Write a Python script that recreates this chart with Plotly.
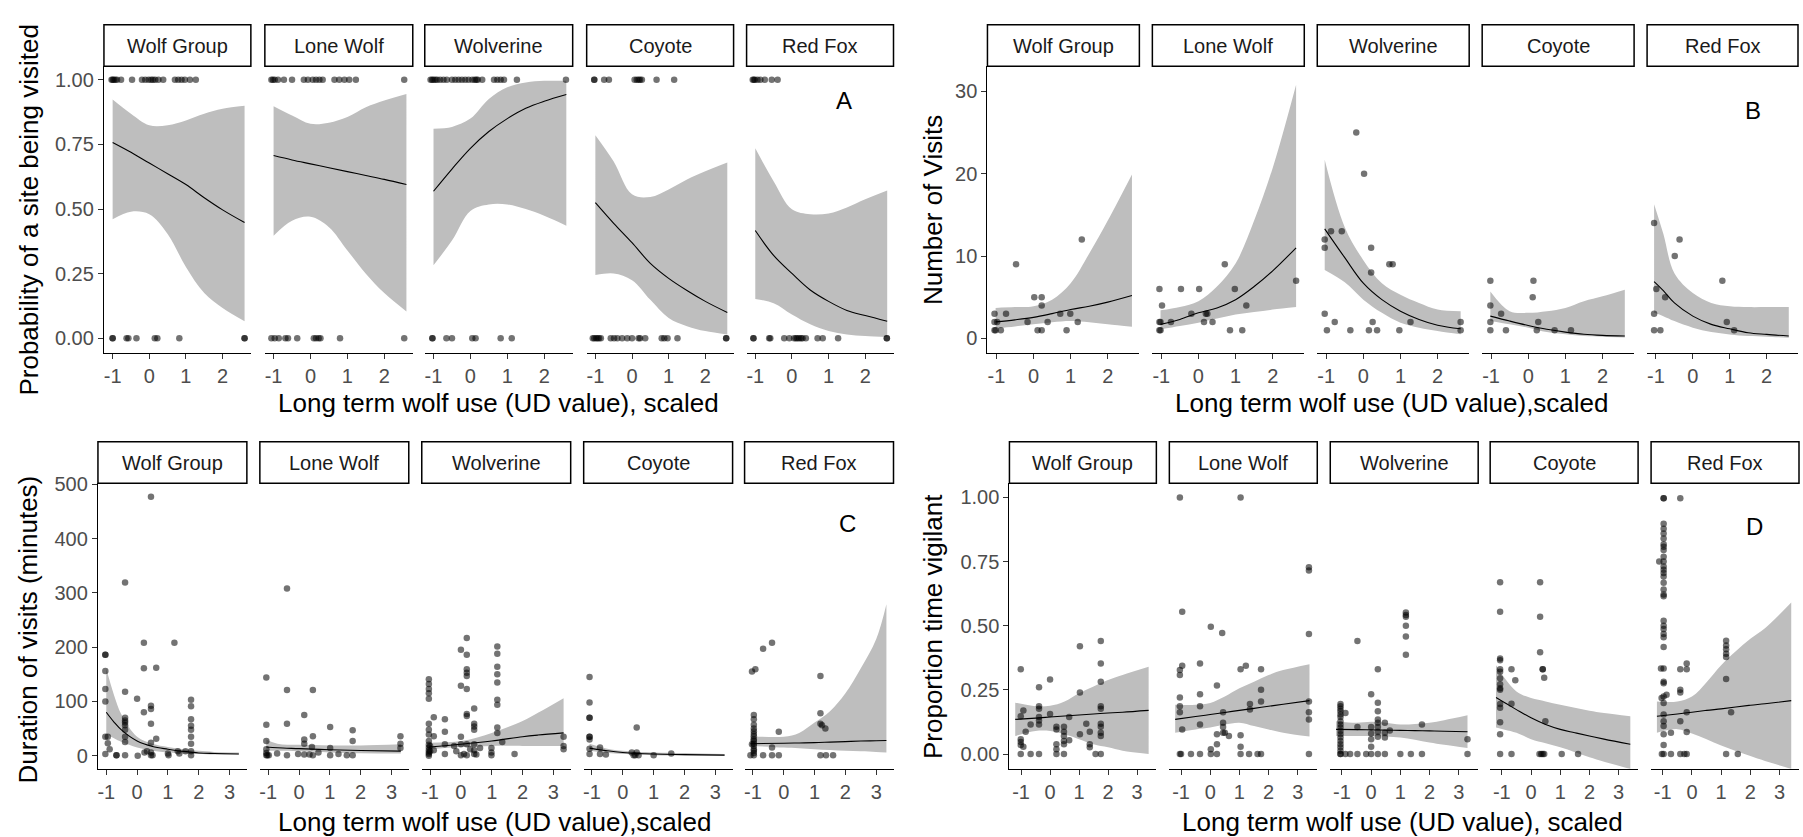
import plotly.graph_objects as go

W, H = 1803, 837
FONT = "Liberation Sans, Arial, sans-serif"
SPECIES = ["Wolf Group", "Lone Wolf", "Wolverine", "Coyote", "Red Fox"]

# ---------------- Panel A : probability of a site being visited ----------------
A_x_visited = {
    "Wolf Group": [-1.03, -1.0, -0.97, -0.93, -0.88, -0.77, -0.47, -0.2, -0.11, -0.02, 0.05, 0.1, 0.16,
                   0.25, 0.38, 0.7, 0.79, 0.88, 0.97, 1.11, 1.27],
    "Lone Wolf": [-1.06, -1.02, -0.97, -0.88, -0.72, -0.5, -0.18, -0.07, 0.06, 0.15, 0.24, 0.33, 0.65,
                  0.78, 0.92, 1.05, 1.23, 2.54],
    "Wolverine": [-1.08, -1.04, -1.0, -0.95, -0.9, -0.82, -0.73, -0.64, -0.5, -0.41, -0.32, -0.23, -0.14,
                  -0.05, 0.05, 0.12, 0.16, 0.2, 0.32, 0.64, 0.73, 0.82, 0.91, 1.26, 2.59],
    "Coyote": [-1.03, -1.03, -0.76, -0.63, 0.07, 0.13, 0.18, 0.22, 0.27, 0.67, 1.15],
    "Red Fox": [-1.07, -1.04, -1.01, -0.94, -0.86, -0.74, -0.55, -0.39],
}
A_x_unvisited = {
    "Wolf Group": [-1.0, -1.0, -0.62, -0.57, -0.35, 0.15, 0.22, 0.82, 2.6, 2.6],
    "Lone Wolf": [-1.06, -0.97, -0.86, -0.68, -0.61, -0.36, 0.09, 0.15, 0.22, 0.27, 0.8, 2.54],
    "Wolverine": [-1.03, -1.03, -0.65, -0.5, 0.05, 0.14, 0.82, 1.12],
    "Coyote": [-1.07, -1.03, -0.98, -0.94, -0.9, -0.85, -0.58, -0.49, -0.4, -0.27, -0.13, 0.0, 0.18,
               0.22, 0.36, 0.81, 0.88, 0.97, 1.24, 2.57, 2.57],
    "Red Fox": [-1.05, -1.05, -0.62, -0.59, -0.21, -0.07, 0.06, 0.11, 0.15, 0.2, 0.25, 0.29, 0.38, 0.7,
                0.84, 1.26, 2.59, 2.59],
}
A_fit_x = [-1.0, -0.5, 0.0, 0.5, 1.0, 1.5, 2.0, 2.6]
A_fit = {
    "Wolf Group": [0.758, 0.72, 0.678, 0.637, 0.595, 0.544, 0.497, 0.448],
    "Lone Wolf": [0.707, 0.69, 0.675, 0.66, 0.645, 0.63, 0.615, 0.595],
    "Wolverine": [0.569, 0.655, 0.735, 0.8, 0.85, 0.89, 0.917, 0.943],
    "Coyote": [0.525, 0.445, 0.37, 0.29, 0.232, 0.185, 0.143, 0.10],
    "Red Fox": [0.417, 0.321, 0.251, 0.187, 0.143, 0.108, 0.088, 0.066],
}
A_lo = {
    "Wolf Group": [0.461, 0.49, 0.48, 0.404, 0.276, 0.175, 0.117, 0.066],
    "Lone Wolf": [0.397, 0.455, 0.47, 0.43, 0.34, 0.25, 0.175, 0.104],
    "Wolverine": [0.283, 0.378, 0.493, 0.518, 0.518, 0.5, 0.474, 0.436],
    "Coyote": [0.245, 0.251, 0.225, 0.149, 0.079, 0.047, 0.028, 0.015],
    "Red Fox": [0.152, 0.136, 0.092, 0.054, 0.028, 0.015, 0.009, 0.005],
}
A_hi = {
    "Wolf Group": [0.924, 0.869, 0.824, 0.824, 0.843, 0.869, 0.888, 0.90],
    "Lone Wolf": [0.898, 0.862, 0.83, 0.834, 0.856, 0.894, 0.92, 0.945],
    "Wolverine": [0.811, 0.818, 0.85, 0.926, 0.971, 0.99, 0.996, 0.996],
    "Coyote": [0.786, 0.684, 0.557, 0.547, 0.576, 0.614, 0.646, 0.68],
    "Red Fox": [0.735, 0.608, 0.499, 0.48, 0.483, 0.506, 0.538, 0.572],
}

# ---------------- Panel B : number of visits ----------------
B_pts = {
    "Wolf Group": [(-1.05, 3), (-1.05, 2), (-1.05, 1), (-0.98, 2), (-1.02, 1), (-0.88, 1), (-0.74, 3),
                   (-0.47, 9), (-0.16, 2), (0.02, 5), (0.11, 1), (0.22, 5), (0.22, 4), (0.22, 1), (0.38, 2),
                   (0.72, 3), (0.89, 1), (0.99, 3), (1.19, 2), (1.3, 12)],
    "Lone Wolf": [(-1.05, 6), (-0.98, 4), (-1.05, 2), (-1.02, 2), (-1.05, 1), (-1.02, 1), (-0.74, 2),
                  (-0.47, 6), (-0.19, 3), (0.02, 6), (0.15, 2), (0.2, 3), (0.24, 3), (0.38, 2), (0.71, 9),
                  (0.85, 1), (0.98, 6), (1.18, 1), (1.29, 4), (2.63, 7)],
    "Wolverine": [(-1.04, 12), (-1.04, 11), (-0.87, 13), (-0.58, 13), (-0.19, 25), (-1.04, 3), (-0.98, 1),
                  (-0.77, 2), (-0.35, 1), (0.02, 20), (0.21, 11), (0.21, 8), (0.7, 9), (0.79, 9), (0.25, 2),
                  (0.15, 1), (0.37, 1), (0.97, 1), (1.27, 2), (2.62, 2), (2.62, 1)],
    "Coyote": [(-1.02, 7), (-1.02, 4), (-1.02, 2), (-1.02, 1), (-0.73, 3), (-0.6, 1), (0.14, 7), (0.12, 5),
               (0.27, 2), (0.23, 1), (0.71, 1), (1.15, 1)],
    "Red Fox": [(-1.05, 14), (-0.99, 6), (-1.05, 3), (-1.05, 1), (-0.88, 1), (-0.75, 5), (-0.49, 10),
                (-0.36, 12), (0.8, 7), (0.92, 2), (1.12, 1)],
}
B_fit_x = {
    "Wolf Group": [-1.02, -0.5, 0.0, 0.5, 1.0, 1.5, 2.0, 2.65],
    "Lone Wolf": [-1.02, -0.5, 0.0, 0.5, 1.0, 1.5, 2.0, 2.63],
    "Wolverine": [-1.04, -0.5, 0.0, 0.5, 1.0, 1.5, 2.0, 2.62],
    "Coyote": [-1.02, -0.5, 0.0, 0.5, 1.0, 1.5, 2.0, 2.6],
    "Red Fox": [-1.05, -0.8, -0.5, 0.0, 0.5, 1.0, 1.5, 2.0, 2.6],
}
B_fit = {
    "Wolf Group": [2.0, 2.25, 2.55, 3.0, 3.5, 3.9, 4.4, 5.2],
    "Lone Wolf": [1.7, 2.3, 3.1, 3.7, 4.7, 6.3, 8.2, 11.0],
    "Wolverine": [13.3, 9.8, 6.7, 4.7, 3.3, 2.3, 1.6, 1.16],
    "Coyote": [2.7, 2.1, 1.56, 1.1, 0.76, 0.5, 0.36, 0.28],
    "Red Fox": [6.9, 5.8, 4.3, 2.7, 1.7, 1.16, 0.68, 0.48, 0.28],
}
B_lo = {
    "Wolf Group": [1.2, 1.45, 1.7, 1.95, 2.1, 1.95, 1.7, 1.4],
    "Lone Wolf": [1.1, 1.5, 1.9, 2.4, 2.9, 3.2, 3.5, 3.8],
    "Wolverine": [8.3, 6.8, 4.7, 3.1, 1.9, 1.3, 0.9, 0.5],
    "Coyote": [2.1, 1.7, 1.3, 0.76, 0.5, 0.28, 0.2, 0.1],
    "Red Fox": [3.1, 2.7, 2.1, 1.3, 0.76, 0.48, 0.28, 0.2, 0.08],
}
B_hi = {
    "Wolf Group": [3.7, 3.8, 3.9, 4.7, 6.7, 10.3, 14.3, 19.9],
    "Lone Wolf": [3.4, 3.8, 4.5, 6.3, 9.1, 14.3, 20.7, 30.8],
    "Wolverine": [21.7, 13.5, 9.5, 6.7, 5.3, 4.3, 3.5, 3.3],
    "Coyote": [5.7, 3.3, 3.1, 3.3, 3.7, 4.5, 5.1, 5.9],
    "Red Fox": [16.3, 12.7, 7.9, 5.5, 4.3, 3.9, 3.8, 3.8, 3.8],
}

# ---------------- Panel C : duration of visits (minutes) ----------------
C_pts = {
    "Wolf Group": [(-1.03, 186), (-1.03, 186), (-1.03, 156), (-1.03, 123), (-1.03, 100), (-1.03, 35),
                   (-0.95, 35), (-0.95, 23), (-0.89, 12), (-1.03, 3), (-0.67, 1), (-0.67, 1), (-0.39, 319),
                   (-0.39, 118), (-0.39, 70), (-0.39, 65), (-0.39, 61), (-0.39, 56), (-0.39, 48), (-0.39, 35),
                   (-0.39, 25), (-0.39, 1), (0.0, 105), (0.02, 0), (0.22, 208), (0.22, 161), (0.22, 80),
                   (0.24, 6), (0.32, 8), (0.45, 477), (0.45, 92), (0.45, 86), (0.45, 59), (0.45, 24),
                   (0.45, 6), (0.45, 1), (0.5, 1), (0.62, 162), (0.62, 31), (1.0, 4), (1.02, 1), (1.21, 208),
                   (1.32, 8), (1.37, 4), (1.57, 8), (1.75, 103), (1.75, 91), (1.75, 67), (1.75, 55),
                   (1.75, 48), (1.75, 35), (1.75, 22), (1.75, 8), (1.75, 1)],
    "Lone Wolf": [(-1.06, 144), (-1.06, 57), (-1.06, 27), (-1.06, 12), (-1.06, 5), (-1.03, 1), (-0.98, 1),
                  (-1.06, 1), (-0.71, 4), (-0.39, 308), (-0.39, 121), (-0.39, 59), (-0.39, 1), (-0.03, 3),
                  (0.17, 75), (0.17, 30), (0.17, 22), (0.17, 2), (0.34, 2), (0.45, 121), (0.45, 36),
                  (0.45, 1), (0.42, 16), (0.63, 6), (1.01, 53), (1.01, 14), (1.01, 1), (1.28, 3), (1.55, 1),
                  (1.74, 47), (1.74, 27), (1.74, 1), (3.29, 36), (3.29, 22), (3.29, 14)],
    "Wolverine": [(-1.04, 141), (-1.04, 132), (-1.04, 123), (-1.04, 115), (-1.04, 105), (-1.04, 59),
                  (-1.04, 48), (-1.04, 39), (-1.04, 27), (-1.04, 20), (-1.04, 15), (-1.04, 10), (-1.04, 6),
                  (-1.04, 3), (-1.04, 0), (-1.0, 18), (-1.0, 8), (-0.88, 71), (-0.88, 36), (-0.88, 10),
                  (-0.52, 67), (-0.52, 44), (-0.52, 21), (-0.52, 3), (-0.22, 18), (0.0, 195), (0.0, 129),
                  (0.19, 217), (0.19, 186), (0.19, 159), (0.19, 153), (0.19, 147), (0.19, 123), (0.43, 87),
                  (0.19, 77), (0.19, 73), (0.0, 35), (0.0, 21), (0.0, 1), (0.19, 21), (0.43, 59),
                  (0.43, 54), (0.43, 48), (0.43, 21), (0.43, 3), (0.62, 14), (0.99, 14), (0.99, 6),
                  (0.99, 1), (1.18, 201), (1.18, 188), (1.18, 164), (1.18, 150), (1.18, 135), (1.18, 103),
                  (1.18, 94), (1.18, 52), (1.18, 42), (1.34, 25), (1.74, 3), (3.33, 35), (3.33, 18),
                  (3.33, 12), (-0.15, 8), (0.1, 3), (0.3, 12), (0.5, 2), (0.19, 1), (0.43, 10)],
    "Coyote": [(-1.08, 145), (-1.08, 98), (-1.08, 70), (-1.08, 70), (-1.08, 35), (-1.08, 35), (-1.08, 30),
               (-1.08, 13), (-1.08, 3), (-0.74, 15), (-0.74, 3), (-0.55, 2), (0.29, 6), (0.35, 1),
               (0.4, 1), (0.45, 52), (0.45, 6), (0.51, 1), (1.0, 1), (1.57, 4)],
    "Red Fox": [(-1.03, 155), (-0.92, 159), (-0.67, 197), (-0.38, 208), (-0.97, 75), (-0.97, 67),
                (-0.97, 57), (-0.97, 50), (-0.97, 45), (-0.97, 40), (-0.97, 36), (-0.97, 30), (-0.97, 27),
                (-0.97, 22), (-0.97, 18), (-0.97, 12), (-0.97, 9), (-0.97, 5), (-0.97, 1), (-1.03, 21),
                (-1.08, 1), (-0.67, 1), (-0.38, 1), (-0.16, 1), (-0.38, 15), (-0.16, 44), (1.19, 147),
                (1.19, 78), (1.19, 59), (1.24, 56), (1.35, 50), (1.19, 1), (1.37, 1), (1.6, 1)],
}
C_fit_x = {
    "Wolf Group": [-1.0, -0.75, -0.5, 0.0, 0.5, 1.0, 1.5, 2.0, 2.5, 3.3],
    "Lone Wolf": [-1.06, -0.7, 0.0, 1.0, 2.0, 3.3],
    "Wolverine": [-1.04, 0.0, 1.0, 2.0, 2.5, 3.33],
    "Coyote": [-1.08, -0.5, 0.0, 1.0, 2.0, 3.3],
    "Red Fox": [-1.08, 0.0, 0.5, 1.0, 1.5, 2.0, 2.5, 3.0, 3.33],
}
C_fit = {
    "Wolf Group": [80, 62, 47, 27, 17, 12, 8, 5, 4, 3],
    "Lone Wolf": [16, 14.5, 13, 11, 9.5, 8.5],
    "Wolverine": [16, 21, 27, 35, 38, 42],
    "Coyote": [14, 9, 6, 3, 2, 1],
    "Red Fox": [22, 23, 23.5, 24, 25, 26, 27, 27.5, 28],
}
C_lo = {
    "Wolf Group": [40, 32, 25, 15, 9, 6, 4, 3, 2, 2],
    "Lone Wolf": [9, 9, 8, 6, 4.5, 4],
    "Wolverine": [12, 16, 18, 18, 18, 18],
    "Coyote": [9, 5, 3, 1, 0.5, 0],
    "Red Fox": [18, 15, 13.5, 12, 10.5, 9, 8, 7, 6],
}
C_hi = {
    "Wolf Group": [160, 112, 75, 35, 22, 16, 12, 9, 7, 6],
    "Lone Wolf": [30, 22, 20, 19, 19, 21],
    "Wolverine": [24, 27, 42, 64, 79, 106],
    "Coyote": [22, 13, 9, 6, 5, 3],
    "Red Fox": [36, 35, 42, 61, 82, 115, 161, 215, 279],
}

# ---------------- Panel D : proportion of time vigilant ----------------
D_pts = {
    "Wolf Group": [(-1.01, 0.33), (-1.01, 0.058), (-1.01, 0.047), (-1.01, 0.035), (-1.01, 0.0),
                   (-1.01, 0.147), (-0.92, 0.17), (-0.92, 0.028), (-0.84, 0.087), (-0.67, 0.115),
                   (-0.67, 0.0), (-0.38, 0.26), (-0.38, 0.186), (-0.38, 0.176), (-0.38, 0.144),
                   (-0.38, 0.131), (-0.38, 0.115), (-0.38, 0.0), (0.0, 0.29), (0.0, 0.156), (0.22, 0.106),
                   (0.22, 0.096), (0.22, 0.038), (0.22, 0.019), (0.22, 0.0), (0.48, 0.106), (0.48, 0.087),
                   (0.48, 0.07), (0.48, 0.051), (0.48, 0.038), (0.48, 0.0), (0.66, 0.054), (0.66, 0.144),
                   (1.03, 0.42), (1.03, 0.24), (1.03, 0.077), (1.25, 0.118), (1.37, 0.087), (1.37, 0.038),
                   (1.37, 0.026), (1.57, 0.0), (1.75, 0.44), (1.75, 0.353), (1.75, 0.282), (1.75, 0.186),
                   (1.75, 0.176), (1.75, 0.118), (1.75, 0.106), (1.75, 0.083), (1.75, 0.07), (1.75, 0.0)],
    "Lone Wolf": [(-1.04, 1.0), (-1.04, 0.0), (-0.96, 0.554), (-1.04, 0.327), (-1.04, 0.308),
                  (-0.96, 0.344), (-1.04, 0.22), (-1.04, 0.186), (-1.04, 0.163), (-0.96, 0.096),
                  (-1.0, 0.0), (-0.66, 0.0), (-0.35, 0.353), (-0.35, 0.233), (-0.35, 0.186),
                  (-0.35, 0.115), (-0.35, 0.0), (0.02, 0.496), (0.02, 0.019), (0.02, 0.0), (0.23, 0.267),
                  (0.23, 0.077), (0.23, 0.038), (0.23, 0.0), (0.41, 0.472), (0.44, 0.163), (0.44, 0.122),
                  (0.44, 0.105), (0.44, 0.083), (0.5, 0.083), (0.64, 0.07), (1.04, 1.0), (1.04, 0.33),
                  (1.22, 0.344), (1.04, 0.073), (1.04, 0.028), (1.04, 0.0), (1.33, 0.0), (1.36, 0.195),
                  (1.36, 0.173), (1.62, 0.0), (1.74, 0.33), (1.74, 0.25), (1.74, 0.205), (1.74, 0.0),
                  (3.38, 0.728), (3.38, 0.715), (3.38, 0.468), (3.38, 0.205), (3.38, 0.163),
                  (3.38, 0.135), (3.38, 0.0)],
    "Wolverine": [(-1.05, 0.195), (-1.05, 0.186), (-1.05, 0.176), (-1.05, 0.167), (-1.05, 0.154),
                  (-1.05, 0.144), (-1.05, 0.128), (-1.05, 0.115), (-1.05, 0.103), (-1.05, 0.09),
                  (-1.05, 0.077), (-1.05, 0.064), (-1.05, 0.051), (-1.05, 0.038), (-1.05, 0.026),
                  (-1.05, 0.013), (-1.05, 0.0), (-1.05, 0.0), (-0.88, 0.16), (-0.88, 0.0), (-0.72, 0.0),
                  (-0.47, 0.44), (-0.47, 0.105), (-0.47, 0.0), (-0.17, 0.0), (0.0, 0.233), (0.0, 0.105),
                  (0.0, 0.08), (0.0, 0.058), (0.0, 0.028), (0.0, 0.0), (0.23, 0.33), (0.23, 0.2),
                  (0.23, 0.167), (0.23, 0.135), (0.23, 0.122), (0.23, 0.105), (0.23, 0.087), (0.23, 0.067),
                  (0.23, 0.0), (0.47, 0.122), (0.47, 0.083), (0.47, 0.064), (0.47, 0.0), (0.64, 0.092),
                  (1.0, 0.0), (1.19, 0.551), (1.19, 0.542), (1.19, 0.535), (1.19, 0.5), (1.19, 0.458),
                  (1.19, 0.387), (1.36, 0.0), (1.74, 0.115), (1.74, 0.0), (3.3, 0.058), (3.3, 0.0)],
    "Coyote": [(-1.06, 0.669), (-1.06, 0.554), (-1.06, 0.372), (-1.06, 0.365), (-1.06, 0.33),
               (-1.06, 0.321), (-1.06, 0.295), (-1.06, 0.272), (-1.06, 0.256), (-1.06, 0.25),
               (-1.06, 0.195), (-1.06, 0.18), (-1.06, 0.124), (-1.06, 0.077), (-1.06, 0.0), (-0.67, 0.33),
               (-0.67, 0.196), (-0.67, 0.0), (-0.54, 0.287), (0.31, 0.669), (0.31, 0.535), (0.31, 0.397),
               (0.4, 0.33), (0.4, 0.33), (0.45, 0.297), (0.29, 0.0), (0.35, 0.0), (0.4, 0.0), (0.45, 0.0),
               (0.49, 0.128), (1.05, 0.0), (1.61, 0.0)],
    "Red Fox": [(-0.97, 0.997), (-0.97, 0.997), (-0.97, 0.897), (-0.97, 0.878), (-0.97, 0.859),
                (-0.97, 0.84), (-0.97, 0.817), (-0.97, 0.808), (-0.97, 0.795), (-0.97, 0.769),
                (-0.97, 0.75), (-0.97, 0.731), (-0.97, 0.718), (-0.97, 0.705), (-0.97, 0.692),
                (-0.97, 0.667), (-0.97, 0.641), (-0.97, 0.622), (-0.97, 0.615), (-0.97, 0.519),
                (-0.97, 0.5), (-0.97, 0.487), (-0.97, 0.468), (-0.97, 0.455), (-0.97, 0.417),
                (-0.97, 0.333), (-0.97, 0.282), (-0.97, 0.276), (-0.97, 0.224), (-0.97, 0.199),
                (-0.97, 0.154), (-0.97, 0.128), (-0.97, 0.109), (-0.97, 0.077), (-0.97, 0.035),
                (-0.97, 0.0), (-1.12, 0.75), (-1.06, 0.333), (-1.03, 0.0), (-0.72, 0.083), (-0.72, 0.0),
                (-0.4, 0.997), (-0.4, 0.33), (-0.4, 0.25), (-0.4, 0.24), (-0.4, 0.128), (-0.4, 0.0),
                (-0.18, 0.353), (-0.18, 0.33), (-0.18, 0.163), (-0.18, 0.086), (-0.18, 0.0),
                (-0.26, 0.0), (-0.87, 0.231), (-1.04, 0.218), (1.17, 0.441), (1.17, 0.423),
                (1.17, 0.408), (1.17, 0.391), (1.17, 0.378), (1.17, 0.292), (1.17, 0.0), (1.34, 0.163),
                (1.57, 0.0)],
}
D_fit_x = {
    "Wolf Group": [-1.2, -0.5, 0.0, 0.5, 1.0, 1.5, 2.0, 2.5, 3.4],
    "Lone Wolf": [-1.2, -0.5, 0.0, 0.5, 1.0, 1.5, 2.0, 2.5, 3.4],
    "Wolverine": [-1.2, -0.5, 0.0, 0.5, 1.0, 1.5, 2.0, 2.5, 3.3],
    "Coyote": [-1.2, -0.9, -0.5, 0.0, 0.5, 1.0, 1.5, 2.0, 2.5, 3.4],
    "Red Fox": [-1.2, -0.5, 0.0, 0.5, 1.0, 1.5, 2.0, 2.5, 3.4],
}
D_fit = {
    "Wolf Group": [0.135, 0.14, 0.144, 0.148, 0.152, 0.156, 0.16, 0.163, 0.17],
    "Lone Wolf": [0.135, 0.146, 0.154, 0.162, 0.17, 0.178, 0.186, 0.194, 0.208],
    "Wolverine": [0.096, 0.095, 0.094, 0.093, 0.092, 0.091, 0.09, 0.089, 0.087],
    "Coyote": [0.22, 0.2, 0.173, 0.141, 0.115, 0.096, 0.083, 0.07, 0.058, 0.038],
    "Red Fox": [0.147, 0.156, 0.163, 0.17, 0.176, 0.183, 0.19, 0.196, 0.208],
}
D_lo = {
    "Wolf Group": [0.07, 0.09, 0.09, 0.077, 0.058, 0.038, 0.026, 0.013, 0.0],
    "Lone Wolf": [0.083, 0.096, 0.103, 0.115, 0.122, 0.109, 0.096, 0.083, 0.068],
    "Wolverine": [0.07, 0.07, 0.07, 0.068, 0.064, 0.056, 0.045, 0.036, 0.023],
    "Coyote": [0.103, 0.095, 0.083, 0.058, 0.042, 0.026, 0.007, -0.013, -0.03, -0.058],
    "Red Fox": [0.083, 0.097, 0.08, 0.058, 0.033, 0.012, -0.008, -0.027, -0.058],
}
D_hi = {
    "Wolf Group": [0.2, 0.186, 0.188, 0.205, 0.237, 0.263, 0.288, 0.308, 0.34],
    "Lone Wolf": [0.192, 0.192, 0.199, 0.224, 0.256, 0.282, 0.308, 0.327, 0.35],
    "Wolverine": [0.128, 0.122, 0.126, 0.122, 0.115, 0.117, 0.122, 0.132, 0.151],
    "Coyote": [0.346, 0.295, 0.244, 0.218, 0.205, 0.192, 0.18, 0.169, 0.16, 0.147],
    "Red Fox": [0.205, 0.205, 0.224, 0.28, 0.346, 0.4, 0.449, 0.49, 0.59],
}

# tick labels
X_TICKS_AB = [-1, 0, 1, 2]
X_TICKS_CD = [-1, 0, 1, 2, 3]
Y_TICKS_PROB = [0, 0.25, 0.5, 0.75, 1.0]
Y_TICKTEXT_PROB = ["0.00", "0.25", "0.50", "0.75", "1.00"]
Y_TICKS_B = [0, 10, 20, 30]
Y_TICKS_C = [0, 100, 200, 300, 400, 500]


def pts_A(sp):
    xs = A_x_visited[sp] + A_x_unvisited[sp]
    ys = [1] * len(A_x_visited[sp]) + [0] * len(A_x_unvisited[sp])
    return xs, ys


def pts_from_pairs(d):
    def f(sp):
        return [p[0] for p in d[sp]], [p[1] for p in d[sp]]
    return f


panels = [
    dict(facets=[(103, 250), (264, 412), (424, 572), (586, 733), (746, 893)], ytop=57, ybot=347, strip=15,
         xrange=[-1.237, 2.772], yrange=[-0.0562, 1.0523], xt=X_TICKS_AB, yt=Y_TICKS_PROB, ytt=Y_TICKTEXT_PROB,
         pts=pts_A, fx=lambda sp: A_fit_x, fit=A_fit, lo=A_lo, hi=A_hi,
         ytitle="Probability of a site being visited", ytpos=(28, 202),
         xtitle="Long term wolf use (UD value), scaled", xtpos=(498, 398), letter=("A", 843, 92)),
    dict(facets=[(987, 1139), (1152, 1304), (1317, 1469), (1482, 1634), (1647, 1798)], ytop=57, ybot=347,
         strip=15, xrange=[-1.24, 2.85], yrange=[-1.76, 33.04], xt=X_TICKS_AB, yt=Y_TICKS_B,
         ytt=[str(v) for v in Y_TICKS_B], pts=pts_from_pairs(B_pts), fx=lambda sp: B_fit_x[sp], fit=B_fit,
         lo=B_lo, hi=B_hi, ytitle="Number of Visits", ytpos=(932, 202),
         xtitle="Long term wolf use (UD value),scaled", xtpos=(1392, 398), letter=("B", 1753, 102)),
    dict(facets=[(97, 246), (259, 408), (421, 570), (583, 732), (744, 893)], ytop=479, ybot=768, strip=437,
         xrange=[-1.27, 3.56], yrange=[-24.2, 501.8], xt=X_TICKS_CD, yt=Y_TICKS_C,
         ytt=[str(v) for v in Y_TICKS_C], pts=pts_from_pairs(C_pts), fx=lambda sp: C_fit_x[sp], fit=C_fit,
         lo=C_lo, hi=C_hi, ytitle="Duration of visits (minutes)", ytpos=(27, 627),
         xtitle="Long term wolf use (UD value),scaled", xtpos=(494, 822), letter=("C", 847, 520)),
    dict(facets=[(1009, 1156), (1169, 1317), (1330, 1478), (1490, 1638), (1651, 1799)], ytop=479, ybot=768,
         strip=437, xrange=[-1.40, 3.666], yrange=[-0.0577, 1.055], xt=X_TICKS_CD, yt=Y_TICKS_PROB,
         ytt=Y_TICKTEXT_PROB, pts=pts_from_pairs(D_pts), fx=lambda sp: D_fit_x[sp], fit=D_fit, lo=D_lo,
         hi=D_hi, ytitle="Proportion time vigilant", ytpos=(932, 624),
         xtitle="Long term wolf use (UD value), scaled", xtpos=(1402, 822), letter=("D", 1754, 523)),
]

fig = go.Figure()
layout = dict(width=W, height=H, margin=dict(l=0, r=0, t=0, b=0, pad=0), paper_bgcolor="white",
              plot_bgcolor="white", showlegend=False, shapes=[], annotations=[],
              font=dict(family=FONT, color="black"))

RIBBON = "rgb(190,190,190)"
n = 0
for P in panels:
    for i, sp in enumerate(SPECIES):
        n += 1
        xa = "x" if n == 1 else f"x{n}"
        ya = "y" if n == 1 else f"y{n}"
        xk = "xaxis" if n == 1 else f"xaxis{n}"
        yk = "yaxis" if n == 1 else f"yaxis{n}"
        x0p, x1p = P["facets"][i]
        layout[xk] = dict(domain=[x0p / W, x1p / W], anchor=ya, range=P["xrange"], tickmode="array",
                          tickvals=P["xt"], ticktext=[str(v) for v in P["xt"]], showline=True,
                          linecolor="black", linewidth=1.2, ticks="outside", ticklen=5, tickwidth=1.2,
                          tickcolor="#333333", tickfont=dict(size=20, color="#4D4D4D", family=FONT),
                          showgrid=False, zeroline=False)
        ycfg = dict(domain=[1 - P["ybot"] / H, 1 - P["ytop"] / H], anchor=xa, range=P["yrange"],
                    showgrid=False, zeroline=False)
        if i == 0:
            ycfg.update(tickmode="array", tickvals=P["yt"], ticktext=P["ytt"], showline=True,
                        linecolor="black", linewidth=1.2, ticks="outside", ticklen=5, tickwidth=1.2,
                        tickcolor="#333333", tickfont=dict(size=20, color="#4D4D4D", family=FONT))
        else:
            ycfg.update(showticklabels=False, ticks="", showline=False)
        layout[yk] = ycfg

        # strip
        layout["shapes"].append(dict(type="rect", xref="paper", yref="paper", x0=x0p / W, x1=x1p / W,
                                     y0=1 - P["ytop"] / H, y1=1 - P["strip"] / H,
                                     line=dict(color="black", width=1.5), fillcolor="white", layer="above"))
        layout["annotations"].append(dict(text=sp, xref="paper", yref="paper", x=(x0p + x1p) / 2 / W,
                                          y=1 - (P["strip"] + P["ytop"]) / 2 / H, showarrow=False,
                                          xanchor="center", yanchor="middle",
                                          font=dict(size=20, color="#1A1A1A", family=FONT)))

        fx = P["fx"](sp)
        fig.add_trace(go.Scatter(x=fx, y=P["lo"][sp], mode="lines", line=dict(width=0, shape="spline"),
                                 xaxis=xa, yaxis=ya, hoverinfo="skip"))
        fig.add_trace(go.Scatter(x=fx, y=P["hi"][sp], mode="lines", line=dict(width=0, shape="spline"),
                                 fill="tonexty", fillcolor=RIBBON, xaxis=xa, yaxis=ya, hoverinfo="skip"))
        fig.add_trace(go.Scatter(x=fx, y=P["fit"][sp], mode="lines",
                                 line=dict(color="black", width=1.1, shape="spline"), xaxis=xa, yaxis=ya))
        px_, py_ = P["pts"](sp)
        fig.add_trace(go.Scatter(x=px_, y=py_, mode="markers",
                                 marker=dict(size=6.5, color="rgba(0,0,0,0.55)", line=dict(width=0)),
                                 xaxis=xa, yaxis=ya, cliponaxis=False))

    # titles
    tx, ty = P["ytpos"]
    layout["annotations"].append(dict(text=P["ytitle"], xref="paper", yref="paper", x=tx / W, y=1 - ty / H,
                                      textangle=-90, showarrow=False, xanchor="center", yanchor="middle",
                                      font=dict(size=26, color="black", family=FONT)))
    tx, ty = P["xtpos"]
    layout["annotations"].append(dict(text=P["xtitle"], xref="paper", yref="paper", x=tx / W, y=1 - ty / H,
                                      showarrow=False, xanchor="center", yanchor="middle",
                                      font=dict(size=26, color="black", family=FONT)))
    lt, lx, ly = P["letter"]
    layout["annotations"].append(dict(text=lt, xref="paper", yref="paper", x=lx / W, y=1 - ly / H,
                                      showarrow=False, xanchor="center", yanchor="middle",
                                      font=dict(size=24, color="black", family=FONT)))

fig.update_layout(**layout)
fig.write_html("out.html")
